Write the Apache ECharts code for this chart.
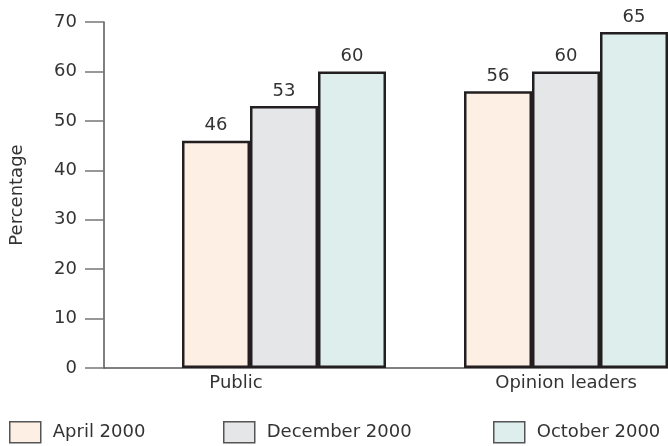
<!DOCTYPE html>
<html>
<head>
<meta charset="utf-8">
<script src="https://cdn.jsdelivr.net/npm/echarts@6/dist/echarts.min.js"></script>
<style>
  html, body { margin: 0; padding: 0; background: #fff; }
  #chart { width: 668px; height: 446px; }
</style>
</head>
<body>
<div id="chart"></div>
<script>
// 分类与数据
const categories = ['Public', 'Opinion leaders'];
const seriesNames = ['April 2000', 'December 2000', 'October 2000'];
// 柱高
const april = [46, 56];
const december = [53, 60];
const october = [60, 68];
// 柱顶标注文字（原图中 Opinion leaders / October 标为 65）
const aprilLabels = ['46', '56'];
const decemberLabels = ['53', '60'];
const octoberLabels = ['60', '65'];
const yTicks = [0, 10, 20, 30, 40, 50, 60, 70];

const FONT = 'DejaVu Sans';
const TEXT = '#333';
const colors = ['#fdefe3', '#e5e6e8', '#ddeeed'];

function barSeries(name, values, labels, color) {
    return {
        name: name,
        type: 'bar',
        barWidth: 68,
        barGap: '0%',
        data: values,
        itemStyle: { color: color, borderColor: '#231f20', borderWidth: 2.5 },
        label: {
            show: true,
            position: 'top',
            distance: 6,
            fontFamily: FONT,
            fontSize: 18,
            color: TEXT,
            formatter: p => labels[p.dataIndex]
        },
        emphasis: { disabled: true }
    };
}

// 单项图例，分别定位
function legendItem(name, left) {
    return {
        data: [name],
        left: left,
        top: 421,
        padding: 0,
        itemWidth: 31,
        itemHeight: 21,
        icon: 'rect',
        selectedMode: false,
        itemStyle: { borderColor: '#555', borderWidth: 1.5 },
        textStyle: { fontFamily: FONT, fontSize: 18, color: TEXT, padding: [0, 0, 0, 7] }
    };
}

const chart = echarts.init(document.getElementById('chart'));
chart.setOption({
    animation: false,
    grid: { left: 104, right: 0, top: 22, bottom: 78 },
    legend: [
        legendItem(seriesNames[0], 9),
        legendItem(seriesNames[1], 223),
        legendItem(seriesNames[2], 493)
    ],
    xAxis: {
        type: 'category',
        data: [
            { value: categories[0], textStyle: { padding: [0, 18, 0, 0] } },
            { value: categories[1], textStyle: { padding: [0, 0, 0, 78] } }
        ],
        axisLine: { lineStyle: { color: '#555', width: 1.5 } },
        axisTick: { show: false },
        axisLabel: { fontFamily: FONT, fontSize: 18, color: TEXT, margin: 6 }
    },
    yAxis: {
        type: 'value',
        min: yTicks[0],
        max: yTicks[yTicks.length - 1],
        interval: 10,
        name: 'Percentage',
        nameLocation: 'middle',
        nameGap: 78,
        nameTextStyle: { fontFamily: FONT, fontSize: 18, color: TEXT },
        axisLine: { show: true, lineStyle: { color: '#555', width: 1.5 } },
        axisTick: { show: true, length: 19, lineStyle: { color: '#777', width: 1.5 } },
        axisLabel: { fontFamily: FONT, fontSize: 18, color: TEXT, margin: 27 },
        splitLine: { show: false }
    },
    series: [
        // 占位柱，把每组三根柱子推到类目右侧
        {
            name: 'spacer',
            type: 'bar',
            barWidth: 78,
            barGap: '0%',
            data: [0, 0],
            itemStyle: { color: 'transparent' },
            silent: true
        },
        barSeries(seriesNames[0], april, aprilLabels, colors[0]),
        barSeries(seriesNames[1], december, decemberLabels, colors[1]),
        barSeries(seriesNames[2], october, octoberLabels, colors[2])
    ]
});
</script>
</body>
</html>
